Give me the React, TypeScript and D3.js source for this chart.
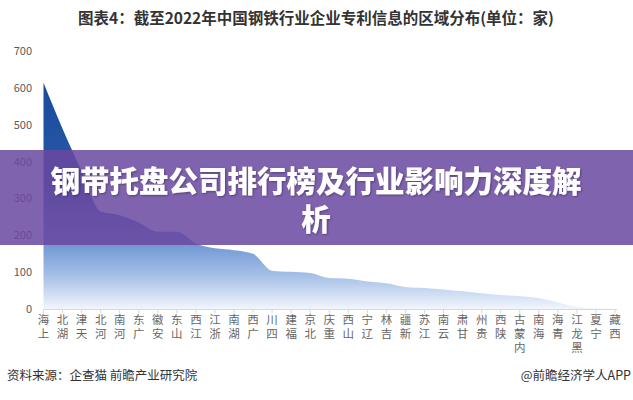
import React from "react";
import * as d3 from "d3";

const categories = ["上海","湖北","天津","河北","河南","广东","安徽","山东","江西","浙江","湖南","广西","四川","福建","北京","重庆","山西","辽宁","吉林","新疆","江苏","云南","甘肃","贵州","陕西","内蒙古","海南","青海","黑龙江","宁夏","西藏"];
const values = [615,490,375,265,255,235,210,210,178,165,160,150,104,101,98,84,82,75,70,60,57,53,48,43,38,35,30,18,6,2,1];
const yTicks = [0,100,200,300,400,500,600,700];
const titleText = "图表4：截至2022年中国钢铁行业企业专利信息的区域分布(单位：家)";
const sourceText = "资料来源：企查猫 前瞻产业研究院";
const brandText = "@前瞻经济学人APP";
const bannerLines = ["钢带托盘公司排行榜及行业影响力深度解", "析"];

const W = 633, H = 400;
const FONT = "'Noto Sans CJK SC', 'Noto Sans', sans-serif";

export default function App() {
  const x = d3.scalePoint<string>().domain(categories).range([43.5, 615]);
  const y = d3.scaleLinear().domain([0, 700]).range([309, 51.5]);
  const data = categories.map((c, i) => ({ c, v: values[i] }));
  const area = d3.area<{ c: string; v: number }>()
    .x(d => x(d.c) as number)
    .y0(y(0))
    .y1(d => y(d.v))
    .curve(d3.curveMonotoneX);

  return (
    <svg width={W} height={H} style={{ position: "absolute", left: 0, top: 0, background: "#fff" }} fontFamily={FONT}>
      <defs>
        <linearGradient id="ag" gradientUnits="userSpaceOnUse" x1="0" x2="0" y1={y(620)} y2={y(0)}>
          <stop offset="0" stopColor="#1a4a9b" />
          <stop offset="0.45" stopColor="#2a59a9" />
          <stop offset="0.7" stopColor="#6a93d1" />
          <stop offset="0.86" stopColor="#a8c2e8" />
          <stop offset="1" stopColor="#f2f6fc" />
        </linearGradient>
        <filter id="ts" x="-5%" y="-20%" width="110%" height="140%">
          <feDropShadow dx="1" dy="1" stdDeviation="1" floodColor="#000" floodOpacity="0.35" />
        </filter>
      </defs>
      <rect x={0} y={0} width={W} height={H} fill="#fff" />
      <text x={316} y={24} textAnchor="middle" fontSize={15.5} fontWeight={700} fill="#333">{titleText}</text>

      {yTicks.map(t => (
        <text key={t} x={32} y={y(t)} dy="0.35em" textAnchor="end" fontSize={11} fill="#595959">{t}</text>
      ))}

      <path d={area(data) || ""} fill="url(#ag)" />

      <line x1={43.5} x2={617} y1={309.5} y2={309.5} stroke="#d9d9d9" />
      {categories.map(c => (
        <line key={c} x1={(x(c) as number)} x2={(x(c) as number)} y1={309.5} y2={313.5} stroke="#d9d9d9" />
      ))}
      {categories.map(c => (
        <text key={c} x={x(c) as number} y={314}
          style={{ writingMode: "vertical-rl", textOrientation: "upright", letterSpacing: "2.5px" } as any}
          fontSize={11.5} fill="#666">{Array.from(c).reverse().join("")}</text>
      ))}

      <text x={7} y={376} dy="0.35em" fontSize={12.5} fill="#333">{sourceText}</text>
      <text x={631} y={376} dy="0.35em" textAnchor="end" fontSize={12.5} fill="#333">{brandText}</text>

      <rect x={0} y={150} width={W} height={95} fill="rgb(106,72,160)" opacity={0.85} />
      {bannerLines.map((l, i) => (
        <text key={i} x={316} y={182 + i * 38} dy="0.35em" textAnchor="middle" fontSize={29.5} fontWeight={900} fill="#fff" filter="url(#ts)">{l}</text>
      ))}
    </svg>
  );
}
